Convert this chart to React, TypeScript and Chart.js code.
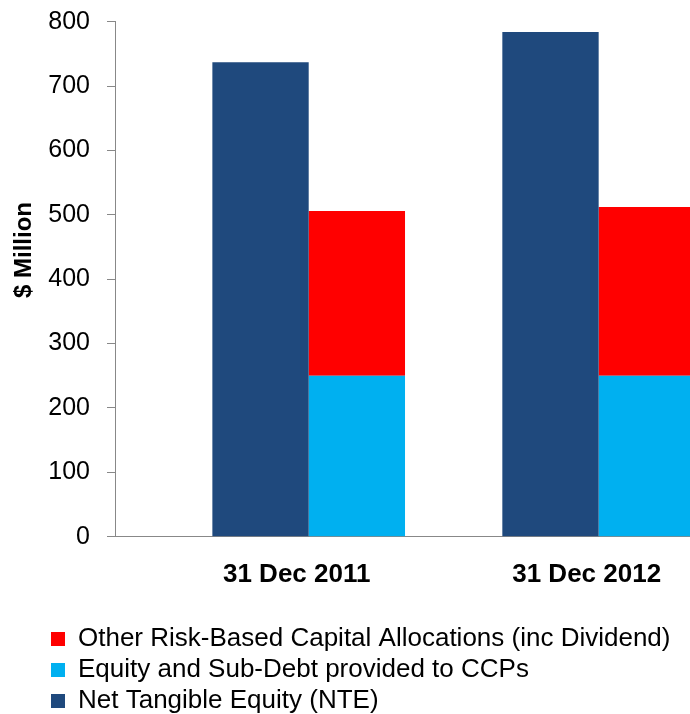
import React, { useEffect, useRef } from 'react';
import { Chart, registerables } from 'chart.js';

Chart.register(...registerables);

// ---- data ----
const categories = ['31 Dec 2011', '31 Dec 2012'];
const nteValues = [737, 784];
const equityValues = [250, 250];
const otherValues = [256, 262];

const nteLabel = 'Net Tangible Equity (NTE)';
const equityLabel = 'Equity and Sub-Debt provided to CCPs';
const otherLabel = 'Other Risk-Based Capital Allocations (inc Dividend)';
const yTitle = '$ Million';
const yMin = 0;
const yMax = 800;
const yStep = 100;

const FONT = "'Liberation Sans', Arial, Helvetica, sans-serif";

const toPoints = (vals: number[]) => vals.map((v, i) => ({ x: i + 1, y: v }));

const yTitlePlugin = {
  id: 'yTitleDraw',
  afterDraw(chart: any) {
    const ctx = chart.ctx;
    ctx.save();
    ctx.translate(24, 250);
    ctx.rotate(-Math.PI / 2);
    ctx.font = `bold 24px ${FONT}`;
    ctx.fillStyle = '#000';
    ctx.textAlign = 'center';
    ctx.textBaseline = 'middle';
    ctx.fillText(yTitle, 0, 0);
    ctx.restore();
  },
};

export default function App() {
  const ref = useRef<HTMLCanvasElement | null>(null);

  useEffect(() => {
    if (!ref.current) return;
    Chart.defaults.font.family = FONT;
    Chart.defaults.color = '#000';
    const chart = new Chart(ref.current, {
      type: 'bar',
      data: {
        datasets: [
          {
            label: nteLabel,
            data: toPoints(nteValues),
            backgroundColor: '#1F497D',
            stack: 'a',
            borderWidth: 0,
          },
          {
            label: equityLabel,
            data: toPoints(equityValues),
            backgroundColor: '#00B0F0',
            stack: 'b',
            borderWidth: 0,
          },
          {
            label: otherLabel,
            data: toPoints(otherValues),
            backgroundColor: '#FF0000',
            stack: 'b',
            borderWidth: 0,
          },
        ] as any,
      },
      plugins: [yTitlePlugin],
      options: {
        responsive: false,
        animation: false,
        datasets: {
          bar: { categoryPercentage: 0.6644, barPercentage: 1 },
        } as any,
        layout: { padding: { left: 46, top: 21.7, right: 0, bottom: 0 } },
        plugins: {
          tooltip: { enabled: false },
          legend: {
            position: 'bottom',
            align: 'start',
            reverse: true,
            labels: {
              boxWidth: 14,
              boxHeight: 14,
              padding: 5,
              color: '#000',
              font: { size: 26, family: FONT },
            },
          },
        },
        scales: {
          x: {
            type: 'linear',
            offset: false,
            min: 0.332,
            max: 2.315,
            grid: { display: false, drawTicks: false, offset: false },
            border: { display: true, color: '#888888', width: 1 },
            afterBuildTicks: (scale: any) => {
              scale.ticks = categories.map((_, i) => ({ value: i + 1 }));
            },
            afterFit: (scale: any) => {
              scale.height = 84.3;
              scale.paddingLeft = 0;
              scale.paddingRight = 0;
            },
            ticks: {
              callback: (v: any) => categories[Math.round(Number(v)) - 1] ?? '',
              font: { size: 26, weight: 'bold', family: FONT },
              color: '#000',
              padding: 23,
              labelOffset: -12,
              maxRotation: 0,
              autoSkip: false,
            },
          },
          y: {
            stacked: true,
            min: yMin,
            max: yMax,
            grid: {
              display: true,
              drawOnChartArea: false,
              drawTicks: true,
              tickLength: 8,
              color: '#888888',
            },
            border: { display: true, color: '#888888', width: 1 },
            afterFit: (scale: any) => {
              scale.width = 69;
              scale.paddingTop = 0;
              scale.paddingBottom = 0;
            },
            ticks: {
              stepSize: yStep,
              font: { size: 25, family: FONT },
              color: '#000',
              padding: 17,
            },
          },
        } as any,
      },
    });
    return () => chart.destroy();
  }, []);

  return (
    <div
      style={{
        position: 'fixed',
        left: 0,
        top: 0,
        width: 690,
        height: 714,
        overflow: 'hidden',
        background: '#fff',
      }}
    >
      <canvas ref={ref} width={690} height={724} style={{ display: 'block' }} />
    </div>
  );
}
